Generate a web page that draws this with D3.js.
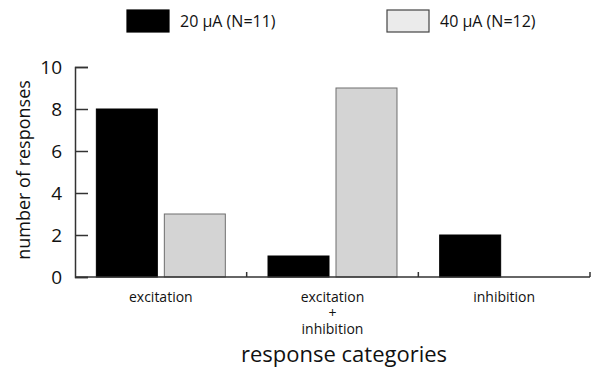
<!DOCTYPE html>
<html>
<head>
<meta charset="utf-8">
<script src="https://cdn.jsdelivr.net/npm/d3@7"></script>
<style>
  body { margin: 0; background: #fff; }
  text { font-family: "Open Sans", "DejaVu Sans", sans-serif; fill: #111; }
</style>
</head>
<body>
<div class="graph-goes-here"></div>
<script>
// categories and series
var categories = ["excitation", "excitation\n+\ninhibition", "inhibition"];
var seriesNames = ["20 \u00b5A (N=11)", "40 \u00b5A (N=12)"];
var current20 = [8, 1, 2];
var current40 = [3, 9, 0];
var yTicks = [0, 2, 4, 6, 8, 10];

var barFill = ["#000000", "#d4d4d4"];
var barStroke = ["#000000", "#6e6e6e"];
var legendFill = ["#000000", "#ebebeb"];

var width = 598, height = 370;

var svg = d3.select(".graph-goes-here")
    .append("svg")
    .attr("width", width)
    .attr("height", height);

var xScale = d3.scaleBand().domain(d3.range(categories.length)).range([75, 590]);
var subScale = d3.scaleBand().domain(d3.range(seriesNames.length))
    .range([0, xScale.bandwidth()])
    .paddingInner(0.103)
    .paddingOuter(0.314);
var yScale = d3.scaleLinear().domain([0, 10]).range([277, 67]);

var values = [current20, current40];

// bars
values.forEach((vals, s) => {
    svg.append("g")
        .selectAll("rect")
        .data(vals)
        .join("rect")
        .attr("x", (d, i) => xScale(i) + subScale(s))
        .attr("y", d => yScale(d))
        .attr("width", subScale.bandwidth())
        .attr("height", d => yScale(0) - yScale(d))
        .attr("fill", barFill[s])
        .attr("stroke", d => d > 0 ? barStroke[s] : "none")
        .attr("stroke-width", 1);
});

// y axis, ticks pointing inward
var yAxis = svg.append("g")
    .attr("transform", "translate(75,0)")
    .call(d3.axisRight(yScale).tickValues(yTicks).tickSize(13).tickFormat(d3.format("d")));
yAxis.select(".domain").attr("stroke", "#333").attr("stroke-width", 1.5);
yAxis.selectAll(".tick line").attr("stroke", "#333").attr("stroke-width", 1.5);
yAxis.selectAll(".tick text")
    .attr("x", -13)
    .attr("text-anchor", "end")
    .attr("font-size", 19)
    .attr("dy", "0.36em");

// x axis: baseline with small upward ticks at band boundaries
var xAxis = svg.append("g").attr("class", "x-axis");
xAxis.append("line")
    .attr("x1", xScale.range()[0]).attr("x2", xScale.range()[1])
    .attr("y1", yScale(0)).attr("y2", yScale(0))
    .attr("stroke", "#333").attr("stroke-width", 1.5);
xAxis.selectAll(".xtick")
    .data(d3.range(categories.length))
    .join("line")
    .attr("class", "xtick")
    .attr("x1", i => xScale(i) + xScale.bandwidth())
    .attr("x2", i => xScale(i) + xScale.bandwidth())
    .attr("y1", yScale(0))
    .attr("y2", yScale(0) - 5)
    .attr("stroke", "#333").attr("stroke-width", 1.5);

// category labels (multi-line)
categories.forEach((c, i) => {
    var t = svg.append("text")
        .attr("text-anchor", "middle")
        .attr("font-size", 14)
        .attr("x", xScale(i) + xScale.bandwidth() / 2)
        .attr("y", 302);
    c.split("\n").forEach((line, k) => {
        t.append("tspan")
            .attr("x", xScale(i) + xScale.bandwidth() / 2)
            .attr("dy", k == 0 ? 0 : 16)
            .text(line);
    });
});

// axis titles
svg.append("text")
    .attr("text-anchor", "middle")
    .attr("font-size", 22)
    .attr("x", 344)
    .attr("y", 362)
    .text("response categories");

svg.append("text")
    .attr("text-anchor", "middle")
    .attr("font-size", 18)
    .attr("transform", "translate(30,170) rotate(-90)")
    .text("number of responses");

// legend
var legendX = [127, 387];
seriesNames.forEach((name, s) => {
    svg.append("rect")
        .attr("x", legendX[s])
        .attr("y", 10)
        .attr("width", 42)
        .attr("height", 22)
        .attr("fill", legendFill[s])
        .attr("stroke", s == 0 ? "#000" : "#444")
        .attr("stroke-width", 1.2);
    svg.append("text")
        .attr("x", legendX[s] + 53)
        .attr("y", 27)
        .attr("font-size", 16)
        .text(name);
});
</script>
</body>
</html>
